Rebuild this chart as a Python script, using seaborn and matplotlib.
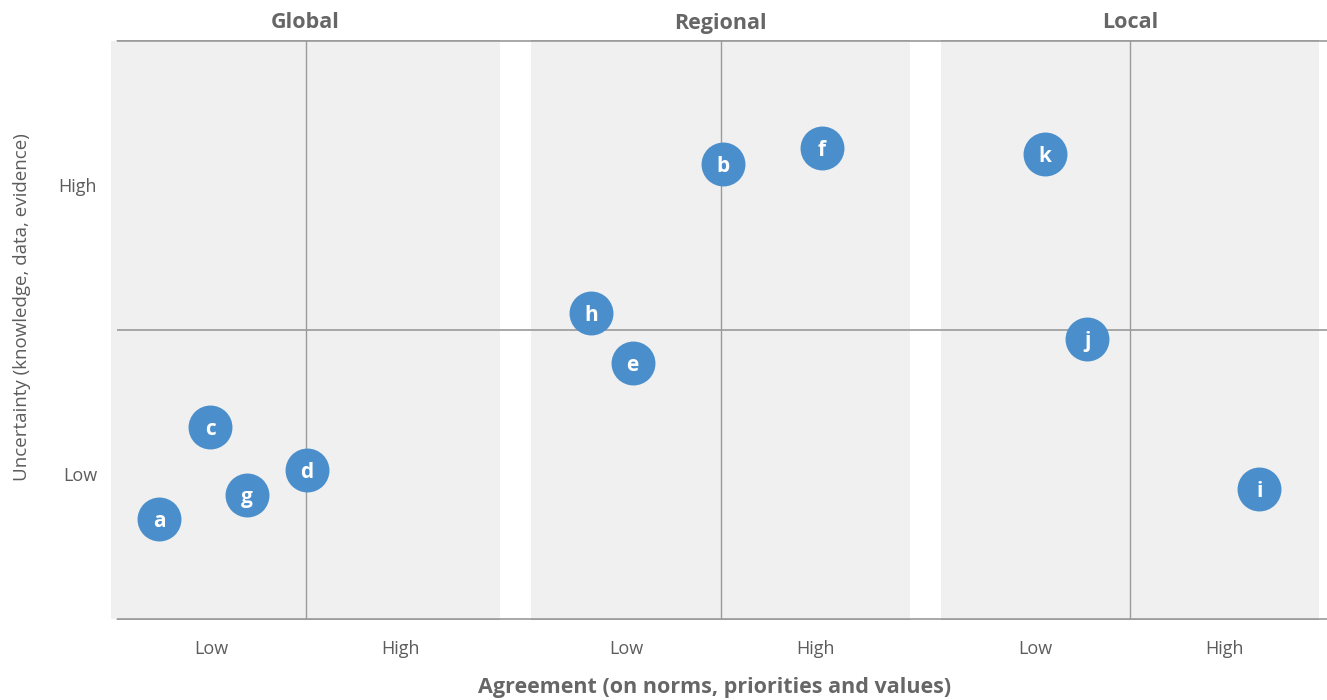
#!/usr/bin/env python3
"""Agreement vs uncertainty by scope (global, regional, local)."""

import matplotlib
matplotlib.use("Agg")
import matplotlib.pyplot as plt
from matplotlib.lines import Line2D
import pandas as pd
import seaborn as sns

# data
scopes = ["Global", "Regional", "Local"]
labels = ["a", "c", "g", "d", "h", "e", "b", "f", "k", "j", "i"]
scope = ["Global", "Global", "Global", "Global",
         "Regional", "Regional", "Regional", "Regional",
         "Local", "Local", "Local"]
agreement = [0.45, 0.99, 1.38, 2.01, 0.63, 1.07, 2.03, 3.07, 1.10, 1.55, 3.37]
uncertainty = [0.69, 1.33, 0.86, 1.03, 2.12, 1.77, 3.15, 3.26, 3.22, 1.94, 0.90]
tick_pos = [1, 3]
tick_labels = ["Low", "High"]

df = pd.DataFrame({"label": labels, "scope": scope,
                   "agreement": agreement, "uncertainty": uncertainty})

sns.set_theme(style="white")
plt.rcParams["font.family"] = ["Open Sans", "DejaVu Sans"]

BLUE = "#4a8fcb"
PANEL = "#f0f0f0"
LINE = "#9a9a9a"
TEXT = "#5c5c5c"

fig, axes = plt.subplots(1, 3, figsize=(13.27, 7.0), dpi=100,
                         gridspec_kw={"width_ratios": [389, 378, 378]})
fig.subplots_adjust(left=111 / 1327, right=1319 / 1327,
                    top=1 - 41 / 700, bottom=1 - 619 / 700, wspace=0.0812)

for i, (ax, name) in enumerate(zip(axes, scopes)):
    sub = df[df["scope"] == name]
    ax.set_facecolor(PANEL)
    if i == 0:
        ax.set_xlim(-0.06, 4.06)
    else:
        ax.set_xlim(0, 4)
    ax.set_ylim(0, 4)
    ax.axvline(2, color=LINE, lw=1, zorder=1)
    # rules inside the panel (the figure-level ones are hidden by the patch)
    x_start = 0 if i == 0 else ax.get_xlim()[0]
    ax.hlines([0, 2, 4], x_start, ax.get_xlim()[1], color=LINE, lw=1.2,
              zorder=1, clip_on=False)
    sns.scatterplot(data=sub, x="agreement", y="uncertainty", ax=ax,
                    s=1000, color=BLUE, linewidth=0, zorder=3, legend=False)
    for _, row in sub.iterrows():
        ax.text(row["agreement"], row["uncertainty"], row["label"],
                ha="center", va="center_baseline", color="white",
                fontsize=15, fontweight="bold", zorder=4)
    for sp in ax.spines.values():
        sp.set_visible(False)
    ax.set_xticks(tick_pos)
    ax.set_xticklabels(tick_labels, fontsize=13, color=TEXT)
    ax.tick_params(axis="x", length=0, pad=15)
    ax.set_xlabel("")
    ax.set_ylabel("")
    ax.set_title(name, fontsize=15.5, fontweight="bold", color="#666666",
                 pad=9)
    if i == 0:
        ax.set_yticks(tick_pos)
        ax.set_yticklabels(tick_labels, fontsize=13, color=TEXT)
        ax.tick_params(axis="y", length=0, pad=10)
        ax.set_ylabel("Uncertainty (knowledge, data, evidence)",
                      fontsize=13.5, color=TEXT)
        ax.yaxis.set_label_coords(-0.205, 0.54)
    else:
        ax.set_yticks([])

# horizontal rules in the gaps and past the last panel
fig.canvas.draw()
inv = fig.transFigure.inverted()
for yv in [0, 2, 4]:
    x0, y0 = inv.transform(axes[0].transData.transform((0, yv)))
    fig.add_artist(Line2D([x0, 1], [y0, y0], transform=fig.transFigure,
                          color=LINE, lw=1.2, zorder=0))

fig.text(0.5 * (axes[0].get_position().x0 + axes[2].get_position().x1),
         1 - 687 / 700, "Agreement (on norms, priorities and values)",
         ha="center", va="center", fontsize=15.5, fontweight="bold",
         color="#666666")

fig.savefig("out.png", dpi=100)
